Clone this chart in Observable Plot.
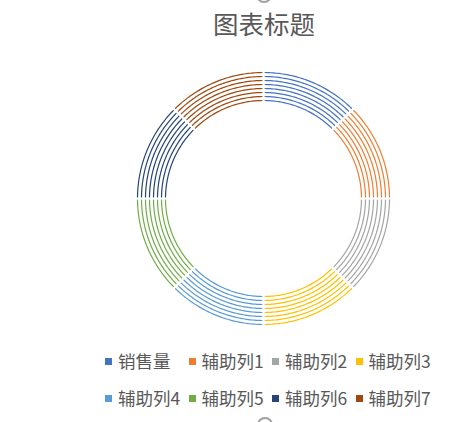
<!DOCTYPE html>
<html>
<head>
<meta charset="utf-8">
<script src="https://cdn.jsdelivr.net/npm/d3@7"></script>
<script src="https://cdn.jsdelivr.net/npm/@observablehq/plot@0.6"></script>
<style>
  html, body { margin: 0; padding: 0; background: #fff; }
  body { width: 475px; height: 422px; position: relative; overflow: hidden;
         font-family: "Noto Sans CJK SC", "Noto Sans", sans-serif; color: #595959; }
  #title { position: absolute; left: 0; width: 528px; top: 4px; text-align: center;
           font-size: 25.5px; line-height: 38px; color: #595959; }
  #chart { position: absolute; left: 0; top: 48px; }
  .lg { position: absolute; font-size: 17.5px; line-height: 20px; white-space: nowrap; color: #595959; }
  .sw { position: absolute; width: 7px; height: 7px; }
  .handle { position: absolute; width: 12px; height: 12px; border: 2px solid #a0a0a0; border-radius: 50%; }
</style>
</head>
<body>
<div id="title">图表标题</div>
<div id="chart"></div>
<div id="legend"></div>
<div class="handle" style="left:256px; top:-13px;"></div>
<div class="handle" style="left:257px; top:417px;"></div>
<script>
// ---- data ----
const seriesNames = ["销售量", "辅助列1", "辅助列2", "辅助列3", "辅助列4", "辅助列5", "辅助列6", "辅助列7"];
const segmentValues = [1, 1, 1, 1, 1, 1, 1, 1];
const ringIndex = [0, 1, 2, 3, 4, 5, 6, 7];
const seriesColors = ["#4472C4", "#ED7D31", "#A5A5A5", "#FFC000", "#5B9BD5", "#70AD47", "#264478", "#9E480E"];

// ---- geometry (derived) ----
const innerR = 98, ringStep = 4, gapHalf = 1.6, samples = 48;
const pie = d3.pie().sort(null).value(d => d)(segmentValues);
const pts = [];
ringIndex.forEach(ri => {
  const r = innerR + ri * ringStep;
  pie.forEach((p, si) => {
    const a0 = p.startAngle + gapHalf / r, a1 = p.endAngle - gapHalf / r;
    for (let k = 0; k <= samples; k++) {
      const a = a0 + (a1 - a0) * k / samples;
      pts.push({key: ri + "-" + si, series: seriesNames[si], x: r * Math.sin(a), y: r * Math.cos(a)});
    }
  });
});

const plot = Plot.plot({
  width: 475,
  height: 300,
  marginLeft: 113,
  marginRight: 62,
  marginTop: 0,
  marginBottom: 0,
  x: {domain: [-150, 150], axis: null},
  y: {domain: [-150, 150], axis: null},
  color: {domain: seriesNames, range: seriesColors},
  marks: [
    Plot.line(pts, {x: "x", y: "y", z: "key", stroke: "series", strokeWidth: 1.2, curve: "linear"})
  ]
});
document.getElementById("chart").appendChild(plot);

// ---- legend ----
const lg = document.getElementById("legend");
seriesNames.forEach((name, i) => {
  const col = i % 4, row = Math.floor(i / 4);
  const sx = 105 + col * 83.5, sy = 358 + row * 37;
  const sw = document.createElement("div");
  sw.className = "sw";
  sw.style.left = sx + "px";
  sw.style.top = sy + "px";
  sw.style.background = seriesColors[i];
  lg.appendChild(sw);
  const t = document.createElement("div");
  t.className = "lg";
  t.textContent = name;
  t.style.left = (sx + 13) + "px";
  t.style.top = (sy - 7) + "px";
  lg.appendChild(t);
});
</script>
</body>
</html>
